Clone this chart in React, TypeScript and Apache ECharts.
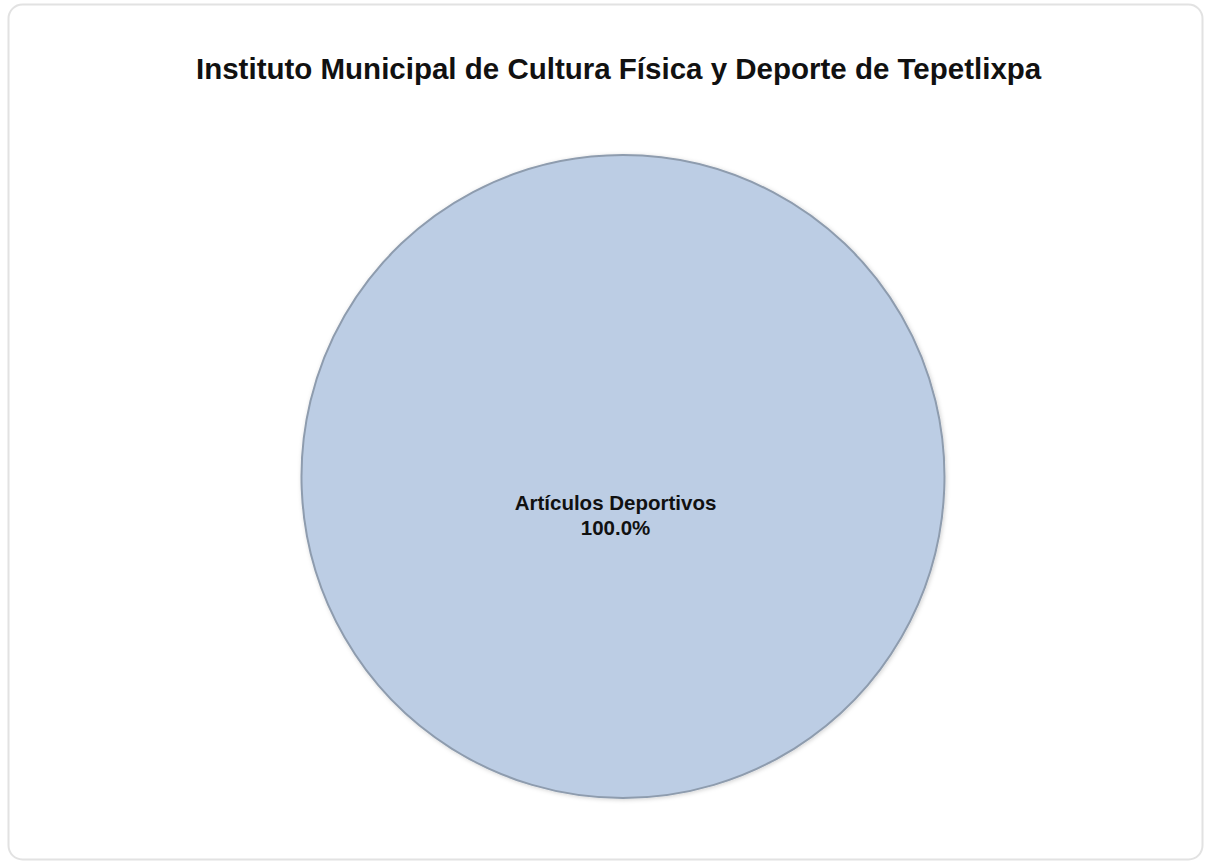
import React, { useEffect, useRef } from "react";
import * as echarts from "echarts";

const titleText = "Instituto Municipal de Cultura Física y Deporte de Tepetlixpa";
const categories = ["Artículos Deportivos"];
const values = [100];
const colors = ["#bccde4"];

export default function App() {
  const ref = useRef<HTMLDivElement>(null);
  useEffect(() => {
    if (!ref.current) return;
    const chart = echarts.init(ref.current, null, { renderer: "svg" });
    const total = values.reduce((a, b) => a + b, 0);
    chart.setOption({
      animation: false,
      backgroundColor: "#ffffff",
      title: {
        text: titleText,
        left: 191,
        top: 48,
        textStyle: {
          fontFamily: "Liberation Sans, Arial, sans-serif",
          fontSize: 29.5,
          fontWeight: "bold",
          color: "#111111",
        },
      },
      graphic: [
        {
          type: "rect",
          shape: { x: 8.5, y: 4.5, width: 1194, height: 855, r: 14 },
          style: { fill: "none", stroke: "#e2e2e2", lineWidth: 2 },
          silent: true,
        },
      ],
      series: [
        {
          type: "pie",
          center: [623, 476.5],
          radius: [0, 321.5],
          startAngle: 90,
          data: categories.map((c, i) => ({
            name: c,
            value: values[i],
            itemStyle: { color: colors[i] },
          })),
          itemStyle: {
            borderColor: "#8e9cae",
            borderWidth: 2,
            shadowColor: "rgba(0,0,0,0.18)",
            shadowBlur: 4,
            shadowOffsetX: 1,
            shadowOffsetY: 1,
          },
          label: {
            show: true,
            position: "center",
            formatter: (p: any) =>
              `{s| }\n{a|${p.name}}\n{a|${((p.value / total) * 100).toFixed(1)}%}`,
            rich: {
              s: { lineHeight: 77, fontSize: 10 },
              a: {
                fontFamily: "Liberation Sans, Arial, sans-serif",
                fontSize: 20.5,
                fontWeight: "bold",
                lineHeight: 25,
                color: "#111111",
                padding: [0, 15, 0, 0],
              },
            },
          },
          labelLine: { show: false },
          emphasis: { disabled: true },
        },
      ],
    });
    return () => chart.dispose();
  }, []);
  return (
    <div
      ref={ref}
      style={{ position: "fixed", left: 0, top: 0, width: 1206, height: 863 }}
    />
  );
}
